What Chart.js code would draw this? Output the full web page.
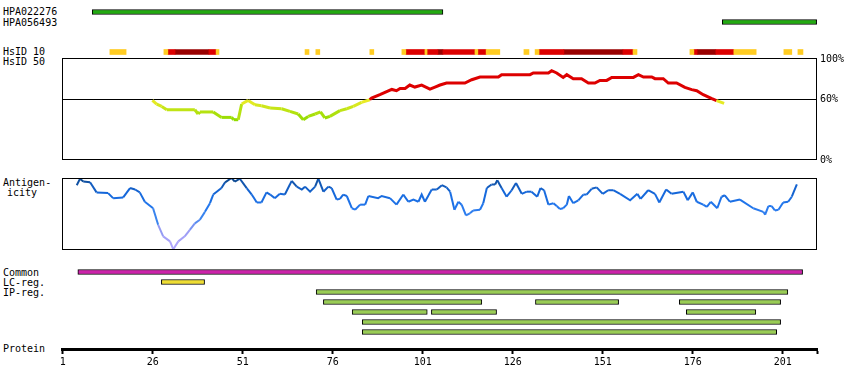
<!DOCTYPE html>
<html>
<head>
<meta charset="utf-8">
<script src="https://cdn.jsdelivr.net/npm/chart.js@4.4.1/dist/chart.umd.min.js"></script>
<style>
  body { margin: 0; background: #fff; width: 850px; height: 390px; position: relative; overflow: hidden;
         font: 10px "DejaVu Sans Mono", monospace; color: #000; }
  canvas { position: absolute; left: 0; top: 0; }
  .lbl { position: absolute; left: 3px; line-height: 10px; white-space: pre; }
</style>
</head>
<body>
<div class="lbl" style="top:7px">HPA022276</div>
<div class="lbl" style="top:18px">HPA056493</div>
<div class="lbl" style="top:47px">HsID 10</div>
<div class="lbl" style="top:57px">HsID 50</div>
<div class="lbl" style="top:178px">Antigen-</div>
<div class="lbl" style="top:188px;left:7px">icity</div>
<div class="lbl" style="top:268px">Common</div>
<div class="lbl" style="top:278px">LC-reg.</div>
<div class="lbl" style="top:288px">IP-reg.</div>
<div class="lbl" style="top:344px">Protein</div>

<canvas id="topChart" width="850" height="390"></canvas>
<canvas id="hsidChart" width="850" height="390"></canvas>
<canvas id="antiChart" width="850" height="390"></canvas>
<canvas id="trackChart" width="850" height="390"></canvas>

<script>
// protein axis
const axisMin = 0.8, axisMax = 210.5;
const proteinTicks = [1, 26, 51, 76, 101, 126, 151, 176, 201];

// antibodies (rows 0 and 1 of the top block)
const hpaRanges = [[9.2, 106.6], [184.2, 210.4]];

// HsID 10 identity segments (row 4 of the top block)
const hsid10Low = [[14.1, 18.6], [29.1, 30.2], [43.6, 44.4], [68.3, 69.4], [71.3, 72.4], [86.3, 87.4],
  [95.2, 96.3], [101.6, 102.2], [115.5, 116.3], [118.6, 122.4], [129.1, 130.5], [132.2, 133.3],
  [159.4, 160.5], [175.2, 176.3], [187.4, 193.6], [201.3, 203.5], [205.2, 206.6]];
const hsid10Mid = [[30.2, 32.2], [41.6, 43.6], [96.3, 101.6], [102.2, 105.2], [106.6, 115.5],
  [116.3, 118.6], [133.3, 140.2], [156.6, 159.4], [176.3, 177.2], [182.4, 187.4]];
const hsid10High = [[32.2, 41.6], [105.2, 106.6], [140.2, 156.6], [177.2, 182.4]];

// HsID 50 curve (% identity)
const hsidPos = [25.9, 27.1, 28.5, 29.9, 37.7, 38.6, 39.1, 42.8, 45.1, 47.9, 48.5, 49.75, 50.7, 52.5,
  54.4, 56.2, 58.6, 61.8, 64.1, 66.4, 67.8, 69.2, 71.1, 72.6, 73.8, 75.2, 78, 79.9, 81.7, 84, 86.3,
  86.8, 89.1, 92.4, 93.7, 94.7, 96.1, 97.4, 98.8, 100.7, 103, 104.4, 105.8, 107.6, 112.7, 114.6,
  116.9, 122, 122.9, 130.8, 131.7, 135.9, 136.8, 138.2, 140, 141, 142.8, 145.1, 147, 148.8, 150.2,
  152.1, 153.5, 159.5, 160.9, 162.3, 164.6, 165.5, 167.8, 169.2, 171.5, 173.8, 175.7, 177.1, 178.9,
  181.3, 182.6, 184.7];
const hsidVal = [59.3, 55.7, 53.3, 50.0, 50.0, 45.8, 47.8, 47.8, 42.4, 42.4, 40.1, 40.1, 55.7, 59.3,
  55.0, 54.0, 51.7, 51.0, 48.4, 45.8, 40.1, 43.4, 45.8, 47.8, 41.8, 43.4, 49.1, 51.0, 53.3, 57.3, 60.0,
  61.7, 65.0, 70.2, 69.0, 71.2, 71.2, 74.6, 72.6, 74.6, 70.6, 72.6, 74.6, 76.6, 76.6, 79.9,
  82.6, 82.6, 84.9, 84.9, 86.6, 86.6, 88.9, 86.6, 82.2, 84.9, 80.9, 80.9, 76.6, 76.6, 79.2,
  79.2, 82.2, 82.2, 84.9, 82.6, 82.6, 80.9, 80.9, 76.6, 76.6, 72.2, 70.0, 69.0, 65.0,
  61.0, 59.0, 56.3];

// antigenicity curve (relative, 0-100)
const antiPos = [4.9, 5.8, 6.7, 8.6, 10.4, 13.6, 15, 17.8, 19.7, 21.1, 22.4, 23.8, 26.1, 27.5, 28.9,
  30.8, 31.7, 33.1, 34.9, 36.3, 37.7, 39.1, 40.5, 41.9, 42.8, 45.1, 46.1, 47.9, 48.8, 50.2, 52.1,
  53.5, 54.9, 56.2, 57.6, 58.6, 59.9, 61.3, 62.7, 64.6, 66, 67.4, 68.3, 69.7, 71.1, 72, 73.4, 74.8,
  75.7, 77.1, 78, 78.9, 79.9, 81.3, 82.2, 83.6, 85, 85.9, 88.6, 89.6, 91.9, 93.7, 95.6, 97, 98.4,
  99.8, 100.7, 101.6, 103.5, 104.9, 106.3, 107.6, 108.6, 109.8, 110.9, 111.8, 113, 114.1, 115,
  116.9, 117.8, 118.8, 120.1, 121.1, 121.7, 122.9, 124.3, 125.7, 126.9, 128.5, 129.9, 131.2,
  132.8, 133.7, 134.7, 135.9, 137.3, 138.2, 139.1, 140, 141, 141.6, 142.8, 144.2, 145.6, 146.5,
  147.9, 149.3, 151, 152.5, 153.9, 155.8, 158.6, 160.6, 161.5, 163.6, 165.5, 166.7, 168.6, 170.1,
  173.4, 174.6, 176, 177.1, 178.9, 179.9, 181, 182.8, 184, 184.9, 186.3, 189.1, 192.8, 195.6,
  196.1, 197, 197.9, 198.8, 199.8, 201.1, 202.5, 203.5, 204.9];
const antiVal = [90, 99, 95, 94, 80, 79, 72, 73, 86, 84, 80, 67, 58, 35, 19,
  12, 1, 12, 19, 28, 37, 42, 53, 65, 77, 86, 94, 100, 95, 99, 86,
  77, 66, 66, 80, 77, 72, 78, 77, 96, 88, 84, 88, 81, 88, 99, 81, 88,
  86, 70, 71, 77, 75, 58, 56, 63, 63, 75, 72, 75, 72, 63, 77, 67, 70,
  67, 77, 67, 84, 84, 90, 87, 81, 56, 67, 63, 48, 51, 55,
  56, 65, 86, 91, 91, 97, 86, 74, 83, 93, 78, 81, 81,
  74, 86, 83, 63, 65, 61, 57, 58, 63, 75, 65, 69, 77, 77,
  85, 87, 78, 83, 83, 78, 69, 78, 71, 83, 78, 66, 84, 78,
  81, 69, 80, 67, 63, 60, 67, 58, 74, 76, 67, 70, 58, 53,
  49, 61, 61, 55, 56, 66, 67, 74, 91];

// bottom tracks: row 0 Common, row 1 LC-reg., rows 2-6 IP-reg.
const commonRanges = [[5.2, 206.5]];
const lcRanges = [[28.4, 40.4]];
const ipRows = [
  [[71.4, 202.4]],
  [[73.4, 117.4], [132.3, 155.4], [172.25, 200.4]],
  [[81.4, 102.25], [103.4, 121.5], [174.2, 193.5]],
  [[84.2, 200.4]],
  [[84.2, 199.3]]
];

const FONT = { family: '"DejaVu Sans Mono", monospace', size: 10 };

const boxPlugin = {
  id: 'box',
  afterDatasetsDraw(chart) {
    const a = chart.chartArea, c = chart.ctx;
    c.save();
    c.strokeStyle = '#000';
    c.lineWidth = 1;
    c.strokeRect(Math.round(a.left) + 0.5, Math.round(a.top) + 0.5,
      Math.round(a.right - a.left) - 1, Math.round(a.bottom - a.top) - 1);
    c.restore();
  }
};

function mix(c1, c2, t) {
  const a = c1.match(/\w\w/g).map(h => parseInt(h, 16));
  const b = c2.match(/\w\w/g).map(h => parseInt(h, 16));
  return 'rgb(' + a.map((v, i) => Math.round(v + (b[i] - v) * t)).join(',') + ')';
}

function hsidColor(v) {
  if (v >= 60) return '#dd0000';
  const t = Math.min(1, (60 - v) / 20);
  return mix('f0ec28', '90dc00', t);
}

const antiStops = [[0, 'b4a8ff'], [25, '9c9cf4'], [45, '3d85ee'], [60, '2277ee'], [80, '1466d8'], [92, '1256b0'], [100, '0b4585']];
function antiColor(v) {
  for (let i = 1; i < antiStops.length; i++) {
    if (v <= antiStops[i][0]) {
      const [v0, c0] = antiStops[i - 1], [v1, c1] = antiStops[i];
      return mix(c0, c1, (v - v0) / (v1 - v0));
    }
  }
  return '#' + antiStops[antiStops.length - 1][1];
}

function bars(ranges, row, color, border) {
  return {
    type: 'bar',
    data: ranges.map(r => ({ x: r, y: row })),
    backgroundColor: color,
    borderColor: '#000',
    borderWidth: border ? 1 : 0,
    borderSkipped: false,
    barThickness: 5,
    grouped: false
  };
}

const baseOpts = (pad) => ({
  responsive: false,
  animation: false,
  events: [],
  layout: { padding: pad },
  plugins: { legend: { display: false }, tooltip: { enabled: false } }
});

const xHidden = { type: 'linear', min: axisMin, max: axisMax, display: false, offset: false };

// top block: antibodies and HsID 10
new Chart(document.getElementById('topChart'), {
  type: 'bar',
  data: {
    datasets: [
      bars([hpaRanges[0]], 0, '#22aa11', true),
      bars([hpaRanges[1]], 1, '#22aa11', true),
      bars(hsid10Low, 4, '#ffcc22', false),
      bars(hsid10Mid, 4, '#dd0000', false),
      bars(hsid10High, 4, '#990000', false)
    ]
  },
  options: Object.assign(baseOpts({ left: 62, right: 33, top: 7, bottom: 333 }), {
    indexAxis: 'y',
    scales: {
      x: xHidden,
      y: { type: 'linear', min: -0.5, max: 4.5, reverse: true, display: false, offset: false, grid: { offset: false } }
    }
  })
});

// HsID 50
new Chart(document.getElementById('hsidChart'), {
  type: 'line',
  data: {
    datasets: [{
      data: hsidPos.map((p, i) => ({ x: p, y: hsidVal[i] })),
      borderWidth: 3,
      pointRadius: 0,
      borderColor: '#dd0000',
      segment: { borderColor: ctx => hsidColor((ctx.p0.parsed.y + ctx.p1.parsed.y) / 2) }
    }]
  },
  options: Object.assign(baseOpts({ left: 62, right: 0, top: 58, bottom: 230 }), {
    scales: {
      x: xHidden,
      y: {
        type: 'linear', position: 'right', min: 0, max: 101.5,
        afterBuildTicks: s => { s.ticks = [0, 60, 100].map(v => ({ value: v })); },
        afterFit: s => { s.width = 33; },
        ticks: { callback: v => v + '%', font: FONT, color: '#000', padding: 3 },
        grid: {
          drawTicks: false,
          lineWidth: 1,
          color: ctx => (ctx.tick && ctx.tick.value === 60) ? '#000' : 'rgba(0,0,0,0)'
        },
        border: { display: false }
      }
    }
  }),
  plugins: [boxPlugin]
});

// antigenicity
new Chart(document.getElementById('antiChart'), {
  type: 'line',
  data: {
    datasets: [{
      data: antiPos.map((p, i) => ({ x: p, y: antiVal[i] })),
      borderWidth: 2,
      pointRadius: 0,
      borderColor: '#1466d8',
      segment: { borderColor: ctx => antiColor((ctx.p0.parsed.y + ctx.p1.parsed.y) / 2) }
    }]
  },
  options: Object.assign(baseOpts({ left: 62, right: 33, top: 178, bottom: 140 }), {
    scales: {
      x: xHidden,
      y: { type: 'linear', min: 0, max: 100, display: false }
    }
  }),
  plugins: [boxPlugin]
});

// bottom tracks and protein axis
const trackSets = [bars(commonRanges, 0, '#cc22aa', true), bars(lcRanges, 1, '#eedd33', true)];
ipRows.forEach((row, i) => trackSets.push(bars(row, 2 + i, '#99cc55', true)));

new Chart(document.getElementById('trackChart'), {
  type: 'bar',
  data: { datasets: trackSets },
  options: Object.assign(baseOpts({ left: 62, right: 33, top: 267, bottom: 0 }), {
    indexAxis: 'y',
    scales: {
      x: {
        type: 'linear', position: 'bottom', min: axisMin, max: axisMax, offset: false,
        afterBuildTicks: s => { s.ticks = proteinTicks.concat([axisMax]).map(v => ({ value: v })); },
        afterFit: s => { s.height = 41; },
        ticks: {
          callback: v => proteinTicks.includes(v) ? String(v) : '',
          font: FONT, color: '#000', padding: 2, maxRotation: 0, autoSkip: false
        },
        grid: { offset: false, drawOnChartArea: false, drawTicks: true, tickLength: 5, tickWidth: 2, color: '#000' },
        border: { display: true, width: 3, color: '#000' }
      },
      y: { type: 'linear', min: -0.5, max: 7.7, reverse: true, display: false, offset: false, grid: { offset: false } }
    }
  })
});
</script>
</body>
</html>
